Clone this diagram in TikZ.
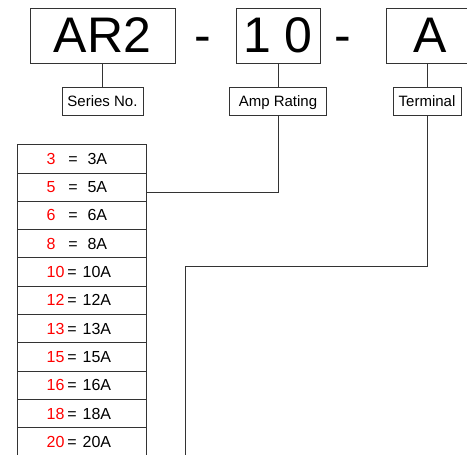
\documentclass[tikz,border=0pt]{standalone}
\usepackage{fontspec}
\setmainfont{Liberation Sans}
\usepackage{tikz}
\usetikzlibrary{positioning}

\tikzset{
  codebox/.style={draw=black!80, line width=1pt, minimum height=55pt, inner sep=0pt,
    font=\fontsize{50}{60}\selectfont},
  namebox/.style={draw=black!80, line width=1pt, minimum height=28pt, inner sep=0pt,
    text height=11pt, text depth=0pt, font=\fontsize{15}{18}\selectfont},
  rowbox/.style={draw=black!80, line width=1pt, minimum width=129pt, minimum height=28.3pt,
    inner sep=0pt, outer sep=0pt, anchor=north},
  rowtext/.style={anchor=west, inner sep=0pt, font=\fontsize{16}{19}\selectfont},
  link/.style={draw=black!80, line width=1pt}
}

\begin{document}
\begin{tikzpicture}[x=1pt,y=-1pt]
	  % Frame of the picture
	  \useasboundingbox (0,0) rectangle (467,455);
	  \clip (0,0) rectangle (467,455);
	  % Part number boxes
	  \node[codebox, minimum width=145pt] (series) at (102.5,35.5) {AR2};
	  \node[codebox, minimum width=84pt] (amp) at (278,35.5) {1 0};
	  \node[codebox, minimum width=88pt] (term) at (430,35.5) {A};
	  \coordinate (dashposa) at (203,0);
	  \coordinate (dashposb) at (342.5,0);
	  \node[font=\fontsize{50}{60}\selectfont, inner sep=0pt, anchor=base] (dasha) at (dashposa |- series.base) {-};
	  \node[font=\fontsize{50}{60}\selectfont, inner sep=0pt, anchor=base] (dashb) at (dashposb |- series.base) {-};
	  % Name boxes
	  \node[namebox, minimum width=81pt, below=23pt of series] (seriesname) {Series No.};
	  \node[namebox, minimum width=97pt, below=23pt of amp] (ampname) {Amp Rating};
	  \node[namebox, minimum width=68pt, below=23pt of term, xshift=-3pt] (termname) {Terminal};
	  \draw[link] (series.south) -- (seriesname.north);
	  \draw[link] (amp.south) -- (ampname.north);
	  \draw[link] (termname.north |- term.south) -- (termname.north);
	  % Amp rating table
	  \foreach \n/\ga/\gb [count=\i] in {3/12.7/9.9, 5/12.7/9.9, 6/12.7/9.9, 8/12.7/9.9,
	      10/2.8/6, 12/2.8/6, 13/2.8/6, 15/2.8/6, 16/2.8/6, 18/2.8/6, 20/2.8/6} {
	    \node[rowbox] (r\i) at (81.5,{144.7+28.3*(\i-1)}) {};
	    \node[rowtext] (v\i) at ([xshift=29.5pt]r\i.west)
	      {\textcolor{red}{\n}\hspace{\ga pt}=\hspace{\gb pt}\n A};
	  }
	  % Connectors
	  \draw[link] (ampname.south) |- ([yshift=-4.85pt]r2.east);
	  \coordinate (termbend) at (185,266);
	  \coordinate (termend) at (185,460);
	  \draw[link] (termname.south) |- (termbend) -- (termend);
\end{tikzpicture}
\end{document}
